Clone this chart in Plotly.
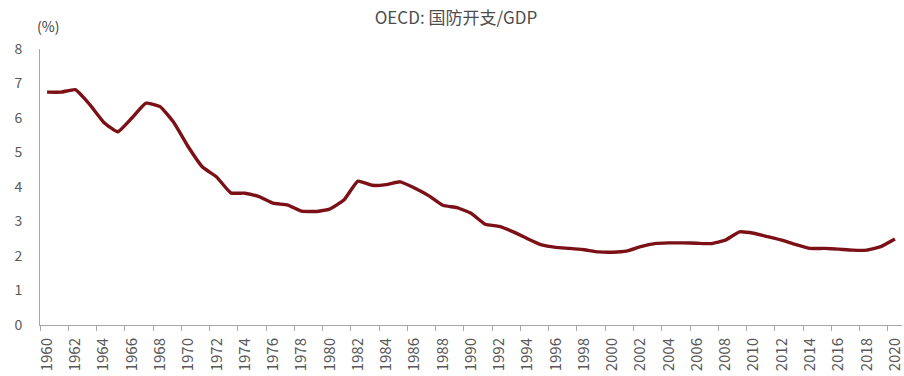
import plotly.graph_objects as go

# OECD military expenditure as a share of GDP (%), 1960-2020
years = list(range(1960, 2021))
spending_pct = [
    6.75, 6.75, 6.82, 6.40, 5.88, 5.60, 6.00, 6.43, 6.33, 5.85,
    5.16, 4.58, 4.29, 3.83, 3.82, 3.72, 3.53, 3.48, 3.30, 3.29,
    3.36, 3.62, 4.17, 4.05, 4.07, 4.15, 3.97, 3.75, 3.47, 3.40,
    3.24, 2.92, 2.86, 2.70, 2.50, 2.32, 2.25, 2.22, 2.18, 2.12,
    2.11, 2.14, 2.27, 2.36, 2.38, 2.38, 2.37, 2.36, 2.46, 2.70,
    2.66, 2.56, 2.46, 2.33, 2.22, 2.22, 2.20, 2.17, 2.17, 2.27,
    2.49,
]
y_ticks = [0, 1, 2, 3, 4, 5, 6, 7, 8]
x_tick_years = list(range(1960, 2021, 2))

title_text = "OECD: 国防开支/GDP"
unit_text = "(%)"

font_family = "Noto Sans CJK SC, Noto Sans, sans-serif"
text_gray = "#595959"
axis_gray = "#a6a6a6"

fig = go.Figure()
fig.add_trace(go.Scatter(
    x=years,
    y=spending_pct,
    mode="lines",
    line=dict(color="#7b1016", width=3.4, shape="spline", smoothing=0.4),
    hoverinfo="x+y",
    showlegend=False,
))

fig.update_layout(
    width=904,
    height=376,
    margin=dict(l=40, r=2, t=49, b=51),
    paper_bgcolor="white",
    plot_bgcolor="white",
    font=dict(family=font_family, color=text_gray, size=13),
    title=dict(
        text=title_text,
        x=456 / 904, xanchor="center",
        y=1 - 18 / 376, yanchor="middle",
        font=dict(family=font_family, size=17, color="#4d4d4d"),
    ),
    annotations=[dict(
        text=unit_text,
        xref="paper", yref="paper",
        x=-0.006, y=1.085,
        xanchor="left", yanchor="middle",
        showarrow=False,
        font=dict(family=font_family, size=14, color="#404040"),
    )],
)

fig.update_xaxes(
    range=[1959.5, 2020.5],
    automargin=False,
    tickmode="array",
    tickvals=x_tick_years,
    ticktext=[str(y) for y in x_tick_years],
    tickangle=-90,
    ticks="",
    ticklabelstandoff=6,
    tickfont=dict(family=font_family, size=15, color=text_gray),
    showline=True,
    linecolor=axis_gray,
    linewidth=1,
    showgrid=False,
    zeroline=False,
    minor=dict(
        tickmode="linear",
        tick0=1959.5,
        dtick=2,
        ticks="outside",
        ticklen=5,
        tickcolor=axis_gray,
        tickwidth=1,
        showgrid=False,
    ),
)

fig.update_yaxes(
    range=[0, 8],
    automargin=False,
    tickmode="array",
    tickvals=y_ticks,
    ticks="",
    ticklabelstandoff=14,
    tickfont=dict(family=font_family, size=14, color=text_gray),
    showline=True,
    linecolor=axis_gray,
    linewidth=1,
    showgrid=False,
    zeroline=False,
)

fig.write_html("out.html")
